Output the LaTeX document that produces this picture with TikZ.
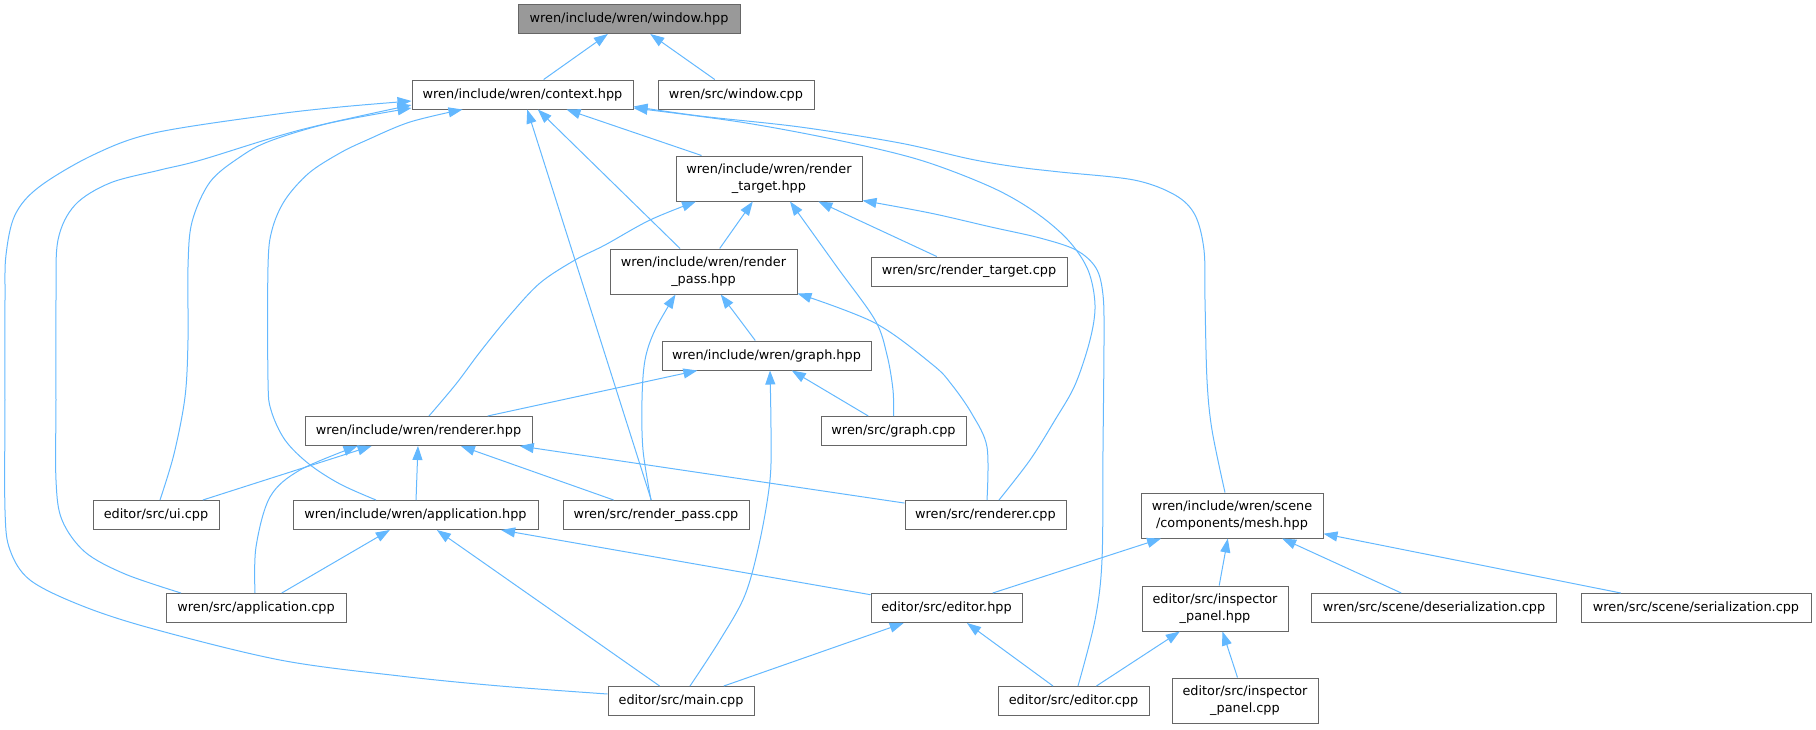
\documentclass[tikz,border=0pt]{standalone}
\usepackage{fontspec}
\setmainfont{DejaVu Sans}
\usepackage{xcolor}
\usepackage{tikz}
\usetikzlibrary{arrows.meta}

\definecolor{ramka}{HTML}{666666}
\definecolor{szary}{HTML}{999999}
\definecolor{niebieski}{HTML}{63B8FF}

\tikzset{
  plik/.style={draw=ramka, fill=white, line width=1pt, inner sep=0pt,
    minimum height=29pt, align=center, font=\fontsize{12.85}{17}\selectfont},
  dwa/.style={minimum height=45pt},
  dep/.style={draw=niebieski, line width=1pt, -{Triangle[length=14pt,width=10pt]}},
}

\begin{document}
\begin{tikzpicture}[x=1pt,y=-1pt]
\useasboundingbox (0,0) rectangle (1816,729);

\node[plik, fill=szary, minimum width=222pt](winh) at (629,19) {wren/include/wren/window.hpp};
\node[plik, minimum width=221pt](ctxh) at (522.5,94.5) {wren/include/wren/context.hpp};
\node[plik, minimum width=156pt](winc) at (736,94.5) {wren/src/window.cpp};
\node[plik, dwa, minimum width=186pt](rth) at (769,178.5) {wren/include/wren/render\\\_target.hpp};
\node[plik, dwa, minimum width=187pt](rph) at (703.5,271.5) {wren/include/wren/render\\\_pass.hpp};
\node[plik, minimum width=196pt](rtc) at (969,271.5) {wren/src/render\_target.cpp};
\node[plik, minimum width=209pt](grh) at (766.5,355.5) {wren/include/wren/graph.hpp};
\node[plik, minimum width=227pt](rdh) at (418.5,431) {wren/include/wren/renderer.hpp};
\node[plik, minimum width=145pt](grc) at (893.5,431) {wren/src/graph.cpp};
\node[plik, minimum width=126pt](uic) at (156,515) {editor/src/ui.cpp};
\node[plik, minimum width=245pt](aph) at (415.5,515) {wren/include/wren/application.hpp};
\node[plik, minimum width=186pt](rpc) at (656,515) {wren/src/render\_pass.cpp};
\node[plik, minimum width=161pt](rdc) at (985.5,515) {wren/src/renderer.cpp};
\node[plik, dwa, minimum width=182pt](mesh) at (1232,515.5) {wren/include/wren/scene\\/components/mesh.hpp};
\node[plik, minimum width=180pt](apc) at (256,608) {wren/src/application.cpp};
\node[plik, minimum width=151pt](edh) at (946.5,608) {editor/src/editor.hpp};
\node[plik, dwa, minimum width=146pt](iph) at (1215,608.5) {editor/src/inspector\\\_panel.hpp};
\node[plik, minimum width=245pt](desc) at (1434,608) {wren/src/scene/deserialization.cpp};
\node[plik, minimum width=230pt](serc) at (1696,608) {wren/src/scene/serialization.cpp};
\node[plik, minimum width=146pt](mainc) at (681,701) {editor/src/main.cpp};
\node[plik, minimum width=151pt](edc) at (1073.5,701) {editor/src/editor.cpp};
\node[plik, dwa, minimum width=146pt](ipc) at (1245,700.5) {editor/src/inspector\\\_panel.cpp};

% proste
\draw[dep] (ctxh) -- (winh);
\draw[dep] (winc) -- (winh);
\draw[dep] (rth) -- (ctxh);
\draw[dep] (rph) -- (ctxh);
\draw[dep] (rpc) -- (ctxh);
\draw[dep] (rph) -- (rth);
\draw[dep] (rtc) -- (rth);
\draw[dep] (grh) -- (rph);
\draw[dep] (rdh) -- (grh);
\draw[dep] (grc) -- (grh);
\draw[dep] (uic) -- (rdh);
\draw[dep] (aph) -- (rdh);
\draw[dep] (rpc) -- (rdh);
\draw[dep] (rdc) -- (rdh);
\draw[dep] (apc) -- (aph);
\draw[dep] (mainc) -- (aph);
\draw[dep] (edh) -- (aph);
\draw[dep] (mainc) -- (edh);
\draw[dep] (edc) -- (edh);
\draw[dep] (edh) -- (mesh);
\draw[dep] (iph) -- (mesh);
\draw[dep] (desc) -- (mesh);
\draw[dep] (serc) -- (mesh);
\draw[dep] (edc) -- (iph);
\draw[dep] (ipc) -- (iph);

% krzywe
\draw[dep] plot[smooth, tension=0.55] coordinates {([yshift=7pt]mainc.west) (500,686) (400,676) (280,660) (150,628) (80,605) (30,580) (10,550) (5,510) (5,400) (5,300) (6,255) (15,215) (39,187) (93,155) (154,133) (270,115) (340,107) ([yshift=-6.5pt]ctxh.west)};
\draw[dep] plot[smooth, tension=0.55] coordinates {([xshift=-75pt]apc.north) (125,574) (85,552) (62,520) (56,480) (56,400) (56,300) (58,240) (75,205) (110,183) (160,170) (201,160) (300,130) ([yshift=-10.5pt]ctxh.west)};
\draw[dep] plot[smooth, tension=0.55] coordinates {([xshift=4pt]uic.north) (174,454) (185,397) (188,340) (188,267) (192,222) (210,182) (240,157) (270,141) (330,123) ([yshift=-13.5pt]ctxh.west)};
\draw[dep] plot[smooth, tension=0.55] coordinates {([xshift=-39.5pt]aph.north) (340,484) (309,464) (285,440) (271,410) (268,380) (268,267) (272,230) (285,200) (309,173) (340,153) (367,140) (410,122) ([xshift=-60pt]ctxh.south)};
\draw[dep] plot[smooth, tension=0.55] coordinates {([xshift=-7pt]mesh.north) (1212,430) (1207,380) (1205,300) (1204,250) (1195,215) (1175,195) (1134,180) (1060,172) (1017,167) (970,159) (900,143) (800,127) (700,116) ([yshift=-12pt]ctxh.east)};
\draw[dep] plot[smooth, tension=0.55] coordinates {([xshift=13.5pt]rdc.north) (1030,460) (1055,420) (1075,385) (1090,340) (1095,305) (1088,270) (1068,240) (1035,212) (991,187) (920,160) (837,140) (740,122) ([yshift=-13.5pt]ctxh.east)};
\draw[dep] plot[smooth, tension=0.55] coordinates {([xshift=4.5pt]edc.north) (1095,620) (1102,560) (1103,450) (1104,340) (1103,295) (1096,268) (1076,250) (1040,238) (991,227) (930,213) ([yshift=1pt]rth.south east)};
\draw[dep] plot[smooth, tension=0.55] coordinates {([xshift=1.5pt]rdc.north) (987,447) (972,414) (952,385) (933,365) (875,323) ([yshift=1pt]rph.south east)};
\draw[dep] plot[smooth, tension=0.55] coordinates {(grc.north) (893,390) (887,355) (875,320) (837,267) ([xshift=21pt]rth.south)};
\draw[dep] plot[smooth, tension=0.55] coordinates {([xshift=10.5pt]rdh.north) (456,384) (480,352) (510,315) (540,283) (575,260) (605,245) (650,220) ([xshift=-73pt]rth.south)};
\draw[dep] plot[smooth, tension=0.55] coordinates {([xshift=-5pt]rpc.north) (643,450) (642,400) (645,360) (655,330) ([xshift=-28pt]rph.south)};
\draw[dep] plot[smooth, tension=0.55] coordinates {([xshift=9pt]mainc.north) (720,640) (745,595) (760,540) (770,480) (771,430) ([xshift=3.5pt]grh.south)};
\draw[dep] plot[smooth, tension=0.55] coordinates {([xshift=-1pt]apc.north) (256,547) (270,497) (300,470) ([xshift=-61pt]rdh.south)};
\end{tikzpicture}
\end{document}
